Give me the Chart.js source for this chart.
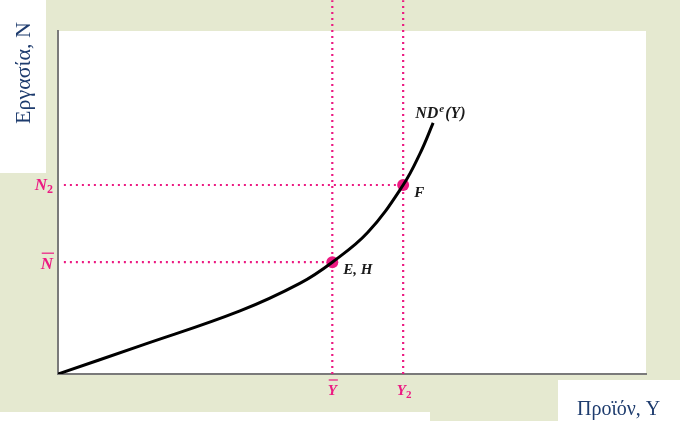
<!DOCTYPE html>
<html>
<head>
<meta charset="utf-8">
<script src="https://cdn.jsdelivr.net/npm/chart.js@4.4.1/dist/chart.umd.min.js"></script>
<style>
  html, body { margin: 0; padding: 0; background: #e5e9d0; }
  canvas { display: block; }
</style>
</head>
<body>
<canvas id="chart" width="680" height="421"></canvas>
<script>
// curve ND^e(Y) (arbitrary units, 0..100 on each axis)
const curveY = [0, 13.95, 30.95, 41.2, 46.65, 52.7, 58.7, 61.6, 63.8];
const curveN = [0, 8.2, 18.4, 26.5, 32.6, 41.3, 55.1, 64.4, 73.2];

// marked levels
const outputLevels = [46.65, 58.7];   // Ȳ, Y2
const labourLevels = [32.6, 55.1];    // N̄, N2
const pointNames = ['E, H', 'F'];

const pink = '#ec1a82';
const navy = '#1e3c6e';

const guideStyle = {
  borderColor: pink,
  borderWidth: 2.2,
  borderDash: [2, 4],
  pointRadius: 0,
  fill: false,
  clip: false
};

const datasets = [
  {
    label: 'NDe(Y)',
    data: curveY.map((y, i) => ({ x: y, y: curveN[i] })),
    borderColor: '#000',
    borderWidth: 3,
    pointRadius: 0,
    tension: 0.4,
    fill: false
  }
];

outputLevels.forEach((y, i) => {
  datasets.push(Object.assign({}, guideStyle, {
    label: 'v' + i,
    data: [{ x: y, y: 0 }, { x: y, y: 109 }]
  }));
  datasets.push(Object.assign({}, guideStyle, {
    label: 'h' + i,
    data: [{ x: 1, y: labourLevels[i] }, { x: y, y: labourLevels[i] }]
  }));
});

datasets.push({
  label: 'points',
  data: outputLevels.map((y, i) => ({ x: y, y: labourLevels[i] })),
  showLine: false,
  pointRadius: 6,
  pointHoverRadius: 6,
  pointBackgroundColor: pink,
  pointBorderWidth: 0
});

const serif = '"Liberation Serif", "DejaVu Serif", serif';

function subLabel(ctx, main, sub, x, y, size, align) {
  ctx.font = 'italic bold ' + size + 'px ' + serif;
  const w1 = ctx.measureText(main).width;
  ctx.font = 'bold ' + Math.round(size * 0.7) + 'px ' + serif;
  const w2 = sub ? ctx.measureText(sub).width : 0;
  let x0 = x;
  if (align === 'right') x0 = x - w1 - w2;
  if (align === 'center') x0 = x - (w1 + w2) / 2;
  ctx.textAlign = 'left';
  ctx.textBaseline = 'alphabetic';
  ctx.font = 'italic bold ' + size + 'px ' + serif;
  ctx.fillText(main, x0, y);
  if (sub) {
    ctx.font = 'bold ' + Math.round(size * 0.7) + 'px ' + serif;
    ctx.fillText(sub, x0 + w1, y + 3);
  }
  return { x0: x0, w: w1 };
}

const decor = {
  id: 'decor',
  beforeDraw(chart) {
    const ctx = chart.ctx;
    const a = chart.chartArea;
    ctx.save();
    ctx.fillStyle = '#e5e9d0';
    ctx.fillRect(0, 0, chart.width, chart.height);
    ctx.fillStyle = '#fff';
    ctx.fillRect(0, 0, 46, 173);
    ctx.fillRect(a.left, a.top, a.right - a.left, a.bottom - a.top);
    ctx.fillRect(558, 380, 122, 41);
    ctx.fillRect(0, 412, 430, 9);

    // axis titles
    ctx.fillStyle = navy;
    ctx.font = '22px ' + serif;
    ctx.textAlign = 'center';
    ctx.textBaseline = 'middle';
    ctx.translate(24, 73);
    ctx.rotate(-Math.PI / 2);
    ctx.fillText('Εργασία, N', 0, 0);
    ctx.restore();

    ctx.save();
    ctx.fillStyle = navy;
    ctx.font = '20px ' + serif;
    ctx.textAlign = 'left';
    ctx.textBaseline = 'alphabetic';
    ctx.fillText('Προϊόν, Y', 577, 415);
    ctx.restore();
  },
  afterDraw(chart) {
    const ctx = chart.ctx;
    const xs = chart.scales.x;
    const ys = chart.scales.y;
    ctx.save();
    ctx.fillStyle = pink;
    ctx.strokeStyle = pink;
    ctx.lineWidth = 1.2;

    // labour levels on the vertical axis
    const yN2 = ys.getPixelForValue(labourLevels[1]);
    subLabel(ctx, 'N', '2', 53, yN2 + 5, 17, 'right');
    const yN = ys.getPixelForValue(labourLevels[0]);
    const n = subLabel(ctx, 'N', '', 53, yN + 7, 17, 'right');
    ctx.beginPath();
    ctx.moveTo(n.x0 + 1, yN - 9);
    ctx.lineTo(n.x0 + n.w + 1, yN - 9);
    ctx.stroke();

    // output levels on the horizontal axis
    const xY = xs.getPixelForValue(outputLevels[0]);
    const yb = subLabel(ctx, 'Y', '', xY, 395, 15, 'center');
    ctx.beginPath();
    ctx.moveTo(yb.x0 + 1, 380);
    ctx.lineTo(yb.x0 + yb.w + 1, 380);
    ctx.stroke();
    const xY2 = xs.getPixelForValue(outputLevels[1]);
    subLabel(ctx, 'Y', '2', xY2 + 1, 395, 15, 'center');

    // curve and point names
    ctx.fillStyle = '#1a1a1a';
    const last = curveY.length - 1;
    const cx = xs.getPixelForValue(curveY[last]);
    const cy = ys.getPixelForValue(curveN[last]);
    ctx.font = 'italic bold 16px ' + serif;
    ctx.textAlign = 'left';
    ctx.textBaseline = 'alphabetic';
    ctx.fillText('ND', cx - 18, cy - 5);
    const wND = ctx.measureText('ND').width;
    ctx.font = 'italic bold 11px ' + serif;
    ctx.fillText('e', cx - 18 + wND + 1, cy - 11);
    ctx.font = 'italic bold 16px ' + serif;
    ctx.fillText('(Y)', cx - 18 + wND + 7, cy - 5);

    ctx.font = 'italic bold 15px ' + serif;
    outputLevels.forEach((y, i) => {
      const px = xs.getPixelForValue(y);
      const py = ys.getPixelForValue(labourLevels[i]);
      ctx.fillText(pointNames[i], px + 11, py + 12);
    });
    ctx.restore();
  }
};

new Chart(document.getElementById('chart'), {
  type: 'line',
  data: { datasets: datasets },
  options: {
    responsive: false,
    animation: false,
    layout: { padding: { left: 58, top: 31, right: 34, bottom: 47 } },
    plugins: { legend: { display: false }, tooltip: { enabled: false } },
    scales: {
      x: {
        type: 'linear', min: 0, max: 100,
        ticks: { display: false },
        grid: { display: false, drawTicks: false },
        border: { display: true, color: '#7a7a7a', width: 2 }
      },
      y: {
        type: 'linear', min: 0, max: 100,
        ticks: { display: false },
        grid: { display: false, drawTicks: false },
        border: { display: true, color: '#7a7a7a', width: 2 }
      }
    }
  },
  plugins: [decor]
});
</script>
</body>
</html>
